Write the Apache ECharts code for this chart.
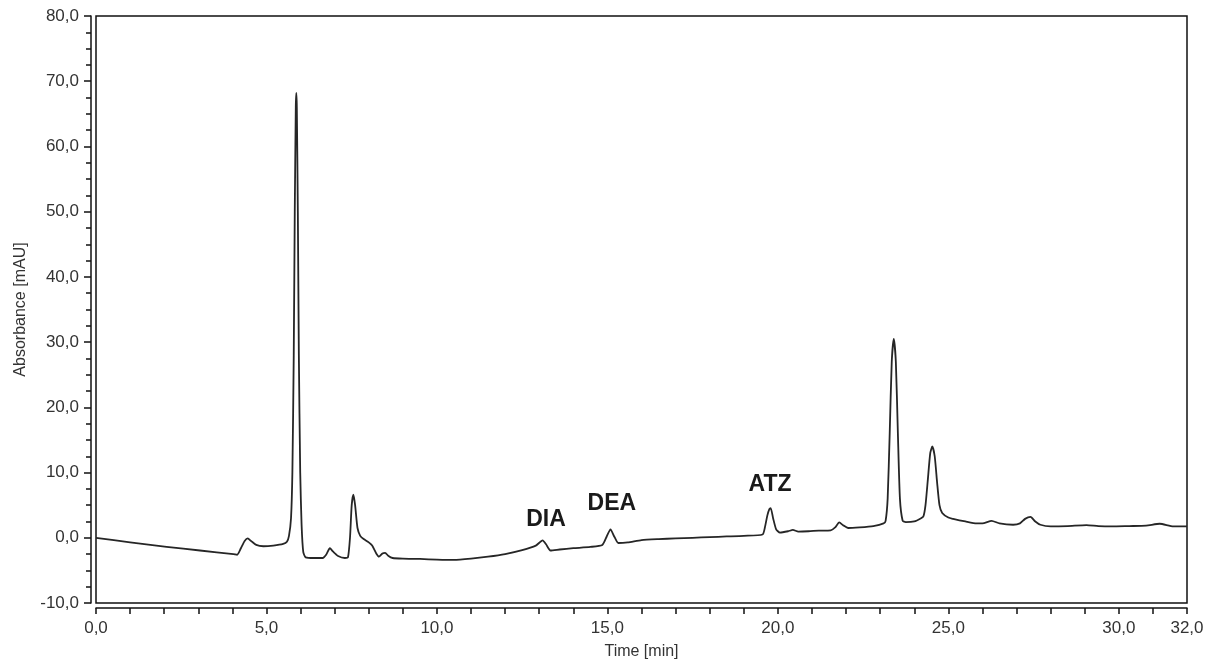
<!DOCTYPE html>
<html lang="en">
<head>
	<meta charset="UTF-8" />
	<title>Chromatogram</title>
	<script src="https://cdn.jsdelivr.net/npm/echarts@6/dist/echarts.min.js"></script>
	<style>
		html, body { margin: 0; padding: 0; background: #fff; }
		#main { width: 1214px; height: 661px; }
	</style>
</head>
<body>
<div id="main"></div>
<script>
	// retention time [min]
	var times = [
		0.0, 1.0, 2.07, 3.05, 4.03, 4.14, 4.25, 4.36, 4.45, 4.55, 4.7, 4.91, 5.2, 5.49, 5.6, 5.66, 5.72, 5.76, 5.8, 5.83, 5.86, 5.875, 5.89, 5.92, 5.95, 5.99, 6.03, 6.08, 6.15, 6.4, 6.65,
		6.75, 6.86, 6.95, 7.1, 7.3, 7.39, 7.45, 7.5, 7.55, 7.6, 7.67, 7.75, 7.85, 8.0, 8.1, 8.22, 8.3, 8.4, 8.48, 8.58, 8.7, 9.0, 9.5, 10.0, 10.5, 11.0, 11.5, 12.0, 12.5, 12.9,
		13.1, 13.2, 13.33, 13.6, 14.0, 14.5, 14.85, 14.98, 15.09, 15.2, 15.32, 15.6, 16.0, 16.5, 17.0, 17.5, 18.0, 18.5, 19.0, 19.55, 19.62, 19.69, 19.75, 19.79, 19.86, 19.95, 20.06,
		20.3, 20.44, 20.6, 20.9, 21.2, 21.55, 21.68, 21.8, 21.92, 22.06, 22.4, 22.8, 23.1, 23.16, 23.22, 23.28, 23.34, 23.4, 23.46, 23.52, 23.58, 23.66, 23.75, 24.0, 24.2,
		24.27, 24.33, 24.4, 24.47, 24.53, 24.6, 24.67, 24.74, 24.82, 25.0, 25.14, 25.5, 25.83, 26.0, 26.27, 26.5, 26.9, 27.1, 27.25, 27.41, 27.55, 27.7, 28.0, 28.5, 29.05, 29.4,
		29.8, 30.3, 30.8, 31.2, 31.6, 32.0
	];
	// absorbance [mAU]
	var absorbance = [
		0.0, -0.7, -1.4, -1.95, -2.5, -2.6, -1.6, -0.5, -0.1, -0.5, -1.1, -1.3, -1.2, -0.95, -0.6, 0.3, 3, 10, 28, 50, 66, 68.2, 66, 50, 28, 10, 2, -2.2, -3.0, -3.1, -3.1,
		-2.6, -1.6, -2.1, -2.8, -3.1, -3.0, 0, 5, 6.6, 5, 1.5, 0.3, -0.2, -0.7, -1.2, -2.4, -2.9, -2.4, -2.3, -2.8, -3.1, -3.2, -3.25, -3.35, -3.4, -3.2, -2.9, -2.5, -1.9, -1.2,
		-0.4, -1.0, -1.95, -1.8, -1.6, -1.4, -1.1, 0.2, 1.3, 0.2, -0.8, -0.7, -0.35, -0.2, -0.1, 0.0, 0.1, 0.2, 0.3, 0.5, 1.6, 3.4, 4.4, 4.55, 3.0, 1.3, 0.8,
		1.0, 1.2, 0.95, 1.0, 1.1, 1.15, 1.6, 2.35, 1.9, 1.5, 1.6, 1.8, 2.2, 2.6, 6, 16, 27, 30.5, 27, 16, 6, 2.6, 2.4, 2.5, 3.0,
		3.3, 5, 9, 13, 14.0, 12.5, 8.5, 5, 3.8, 3.1, 2.9, 2.5, 2.2, 2.2, 2.6, 2.2, 2.0, 2.2, 2.9, 3.2, 2.5, 2.0, 1.75, 1.8, 1.95, 1.8,
		1.75, 1.8, 1.85, 2.15, 1.75, 1.75
	];
	// peak annotations
	var peakNames = ['DIA', 'DEA', 'ATZ'];
	var peakTimes = [13.2, 15.13, 19.77];
	var peakLabelY = [2.8, 5.2, 8.1];

	var xTickLabels = [0, 5, 10, 15, 20, 25, 30, 32];

	function comma(v) {
		return v.toFixed(1).replace('.', ',');
	}

	var trace = times.map(function (t, i) { return [t, absorbance[i]]; });
	var marks = peakNames.map(function (n, i) { return { name: n, value: [peakTimes[i], peakLabelY[i]] }; });

	var mychart = echarts.init(document.getElementById('main'));
	mychart.setOption({
		animation: false,
		grid: {
			left: 96,
			right: 27,
			top: 16,
			bottom: 58,
			containLabel: false,
			outerBoundsMode: 'none',
			show: true,
			borderColor: '#111',
			borderWidth: 1.5
		},
		xAxis: {
			type: 'value',
			min: 0,
			max: 32,
			interval: 1,
			offset: 5,
			name: 'Time [min]',
			nameLocation: 'middle',
			nameGap: 36,
			nameTextStyle: { fontFamily: 'Liberation Sans', fontSize: 16, color: '#333' },
			axisLine: { show: true, onZero: false, lineStyle: { color: '#111', width: 1.5 } },
			axisTick: { show: true, length: 6, lineStyle: { color: '#111', width: 1.5 } },
			splitLine: { show: false },
			axisLabel: {
				margin: 12,
				fontFamily: 'Liberation Sans',
				fontSize: 17,
				color: '#333',
				showMaxLabel: true,
				formatter: function (v) {
					return xTickLabels.indexOf(v) >= 0 ? comma(v) : '';
				}
			}
		},
		yAxis: {
			type: 'value',
			min: -10,
			max: 80,
			interval: 10,
			offset: 5,
			name: 'Absorbance [mAU]',
			nameLocation: 'middle',
			nameGap: 62,
			nameTextStyle: { fontFamily: 'Liberation Sans', fontSize: 16, color: '#333' },
			axisLine: { show: true, onZero: false, lineStyle: { color: '#111', width: 1.5 } },
			axisTick: { show: true, length: 7, lineStyle: { color: '#111', width: 1.5 } },
			minorTick: { show: true, splitNumber: 4, length: 5, lineStyle: { color: '#111', width: 1.5 } },
			splitLine: { show: false },
			axisLabel: {
				margin: 12,
				fontFamily: 'Liberation Sans',
				fontSize: 17,
				color: '#333',
				formatter: comma
			}
		},
		series: [
			{
				type: 'line',
				data: trace,
				showSymbol: false,
				smooth: 0.2,
				lineStyle: { color: '#262626', width: 1.8, join: 'round' }
			},
			{
				type: 'scatter',
				data: marks,
				symbolSize: 0,
				itemStyle: { opacity: 1 },
				label: {
					show: true,
					position: 'inside',
					formatter: '{b}',
					fontFamily: 'Liberation Sans',
					fontWeight: 'bold',
					fontSize: 23,
					color: '#1a1a1a',
					textBorderWidth: 0
				}
			}
		]
	});
</script>
</body>
</html>
